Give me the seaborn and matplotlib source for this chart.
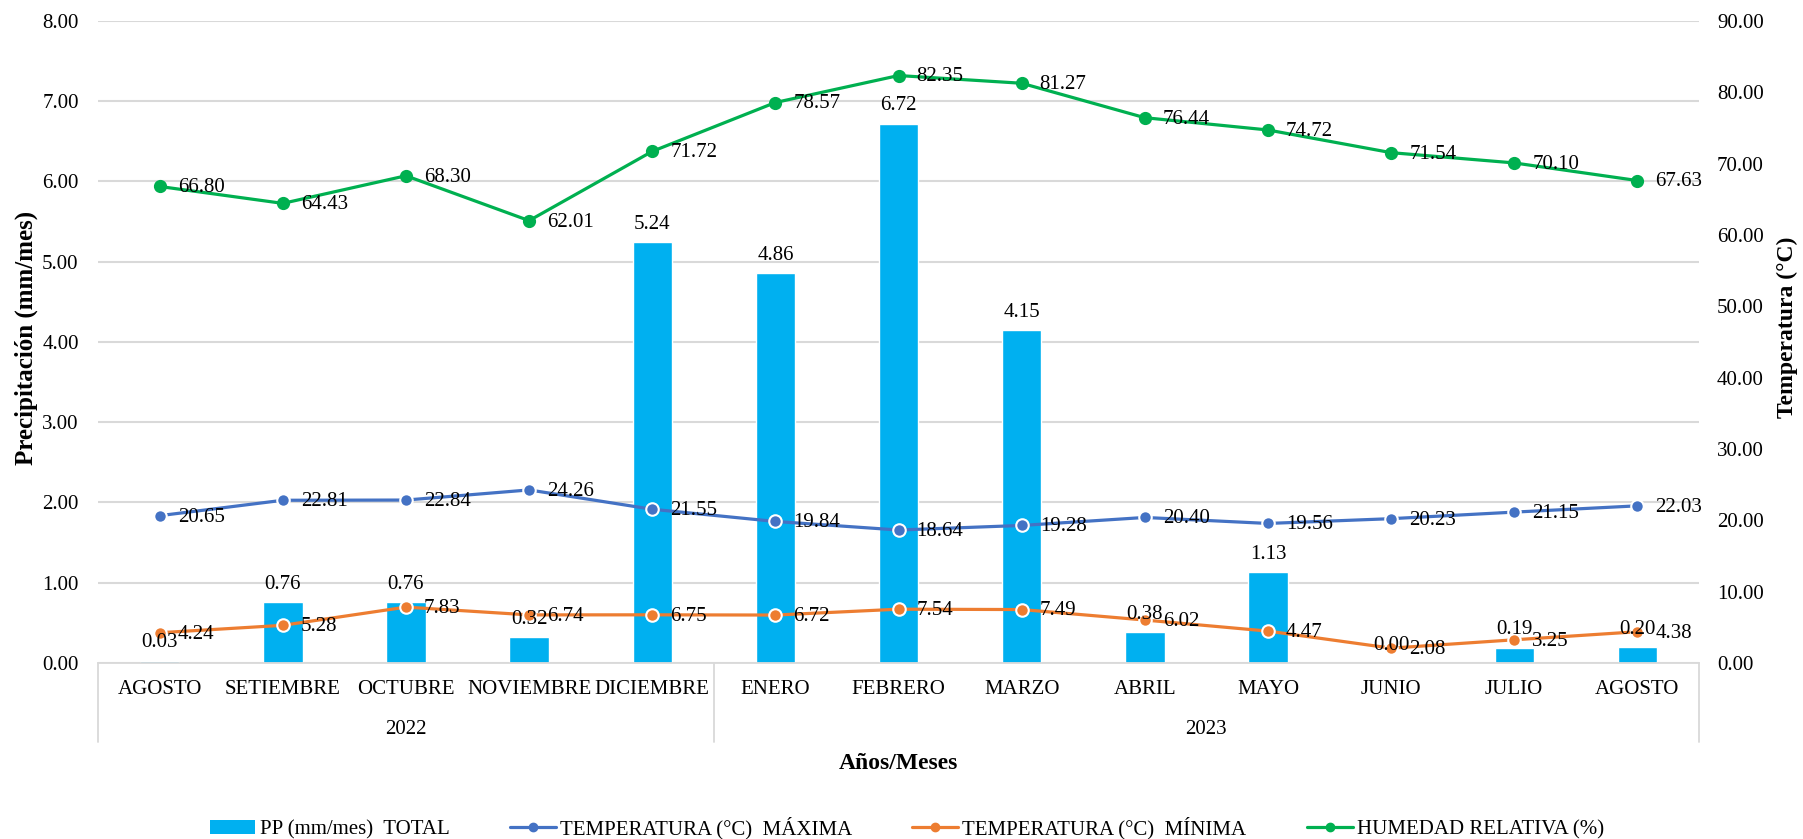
import matplotlib
matplotlib.use("Agg")
import matplotlib.pyplot as plt
import matplotlib.transforms as mtransforms
from matplotlib.patches import Patch
from matplotlib.lines import Line2D
import seaborn as sns
import pandas as pd

months = ["AGOSTO", "SETIEMBRE", "OCTUBRE", "NOVIEMBRE", "DICIEMBRE", "ENERO",
          "FEBRERO", "MARZO", "ABRIL", "MAYO", "JUNIO", "JULIO", "AGOSTO"]
years = ["2022"] * 5 + ["2023"] * 8
pp_total = [0.03, 0.76, 0.76, 0.32, 5.24, 4.86, 6.72, 4.15, 0.38, 1.13, 0.00, 0.19, 0.20]
temp_max = [20.65, 22.81, 22.84, 24.26, 21.55, 19.84, 18.64, 19.28, 20.40, 19.56, 20.23, 21.15, 22.03]
temp_min = [4.24, 5.28, 7.83, 6.74, 6.75, 6.72, 7.54, 7.49, 6.02, 4.47, 2.08, 3.25, 4.38]
humedad = [66.80, 64.43, 68.30, 62.01, 71.72, 78.57, 82.35, 81.27, 76.44, 74.72, 71.54, 70.10, 67.63]

labels_legend = ["PP (mm/mes)  TOTAL", "TEMPERATURA (°C)  MÁXIMA",
                 "TEMPERATURA (°C)  MÍNIMA", "HUMEDAD RELATIVA (%)"]

C_BAR = "#00B0F0"
C_MAX = "#4472C4"
C_MIN = "#ED7D31"
C_HUM = "#00B050"
C_GRID = "#D9D9D9"

sns.set_theme(style="white")
plt.rcParams["font.family"] = ["Liberation Serif", "DejaVu Serif"]
plt.rcParams["text.color"] = "black"

keys = [f"{m} {y}" for m, y in zip(months, years)]
pos = list(range(len(months)))
df = pd.DataFrame({"key": keys, "pos": pos, "pp": pp_total, "tmax": temp_max,
                   "tmin": temp_min, "hum": humedad})

fig = plt.figure(figsize=(18.03, 8.39), dpi=100)
ax1 = fig.add_axes([0.0544, 0.2098, 0.8879, 0.7652])
ax2 = ax1.twinx()

sns.barplot(data=df, x="key", y="pp", order=keys, color=C_BAR, saturation=1,
            width=0.32, ax=ax1, zorder=2)
ax1.set_xlim(-0.5, len(months) - 0.5)
ax1.set_ylim(0, 8)
ax1.set_yticks([0, 1, 2, 3, 4, 5, 6, 7, 8])
ax1.set_yticklabels([f"{v:.2f}" for v in range(9)])
ax1.set_xticks(pos)
ax1.set_xticklabels(months)
ax1.tick_params(axis="x", length=0, pad=12, labelsize=15, colors="black")
ax1.tick_params(axis="y", length=0, pad=14, labelsize=15, colors="black")
ax1.yaxis.grid(True, color=C_GRID, lw=1.5, zorder=0)
ax1.set_axisbelow(True)
for s in ["top", "left", "right"]:
    ax1.spines[s].set_visible(False)
ax1.spines["bottom"].set_color(C_GRID)
ax1.spines["bottom"].set_linewidth(1.3)
ax1.set_xlabel("")
ax1.set_ylabel("")

line_specs = [("tmax", C_MAX, "white", 9), ("tmin", C_MIN, "white", 9), ("hum", C_HUM, C_HUM, 8)]
for col, c, ec, ms in line_specs:
    sns.lineplot(data=df, x="pos", y=col, ax=ax2, color=c, lw=2.3, marker="o",
                 markersize=ms, markeredgecolor=ec, markeredgewidth=1.5, sort=False)
ax2.set_ylim(0, 90)
ax2.set_yticks(list(range(0, 100, 10)))
ax2.set_yticklabels([f"{v:.2f}" for v in range(0, 100, 10)])
ax2.tick_params(axis="y", length=0, pad=13, labelsize=15, colors="black")
for s in ["top", "left", "right", "bottom"]:
    ax2.spines[s].set_visible(False)
ax2.set_xlabel("")
ax2.set_ylabel("")
ax2.set_xlim(-0.5, len(months) - 0.5)

# axis titles
fig.text(0.0144, 0.597, "Precipitación (mm/mes)", rotation=90, ha="center", va="center",
         fontsize=18, fontweight="bold")
fig.text(0.9911, 0.610, "Temperatura (°C)", rotation=90, ha="center", va="center",
         fontsize=17, fontweight="bold")

# data labels
for col in ["tmax", "tmin", "hum"]:
    for i, v in enumerate(df[col]):
        ax2.annotate(f"{v:.2f}", (i, v), xytext=(13, -1), textcoords="offset points",
                     ha="left", va="center", fontsize=15, zorder=5)
for i, v in enumerate(pp_total):
    ax2.annotate(f"{v:.2f}", (i, v), xycoords=ax1.transData, xytext=(0, 6),
                 textcoords="offset points", ha="center", va="bottom", fontsize=15, zorder=5)

# grouped category axis
trans = mtransforms.blended_transform_factory(ax1.transData, ax1.transAxes)
groups = []
for i, y in enumerate(years):
    if not groups or groups[-1][0] != y:
        groups.append([y, i, i])
    else:
        groups[-1][2] = i
bounds = [-0.5] + [g[2] + 0.5 for g in groups]
for b in bounds:
    ax1.plot([b, b], [0, -0.123], transform=trans, clip_on=False, color=C_GRID, lw=1.3)
for y, a, b in groups:
    ax1.text((a + b) / 2, -0.104, y, transform=trans, ha="center", va="center", fontsize=15)
ax1.text(0.5, -0.156, "Años/Meses", transform=ax1.transAxes, ha="center", va="center",
         fontsize=17, fontweight="bold")

handles = [
    Patch(facecolor=C_BAR, edgecolor="none"),
    Line2D([], [], color=C_MAX, lw=2.3, marker="o", markersize=6, markeredgecolor=C_MAX),
    Line2D([], [], color=C_MIN, lw=2.3, marker="o", markersize=6, markeredgecolor=C_MIN),
    Line2D([], [], color=C_HUM, lw=2.3, marker="o", markersize=6, markeredgecolor=C_HUM),
]
fig.legend(handles, labels_legend, loc="center", bbox_to_anchor=(0.503, 0.013), ncol=4,
           frameon=False, fontsize=15, handlelength=2.2, handletextpad=0.2, columnspacing=2.9)

fig.savefig("out.png", dpi=100)
